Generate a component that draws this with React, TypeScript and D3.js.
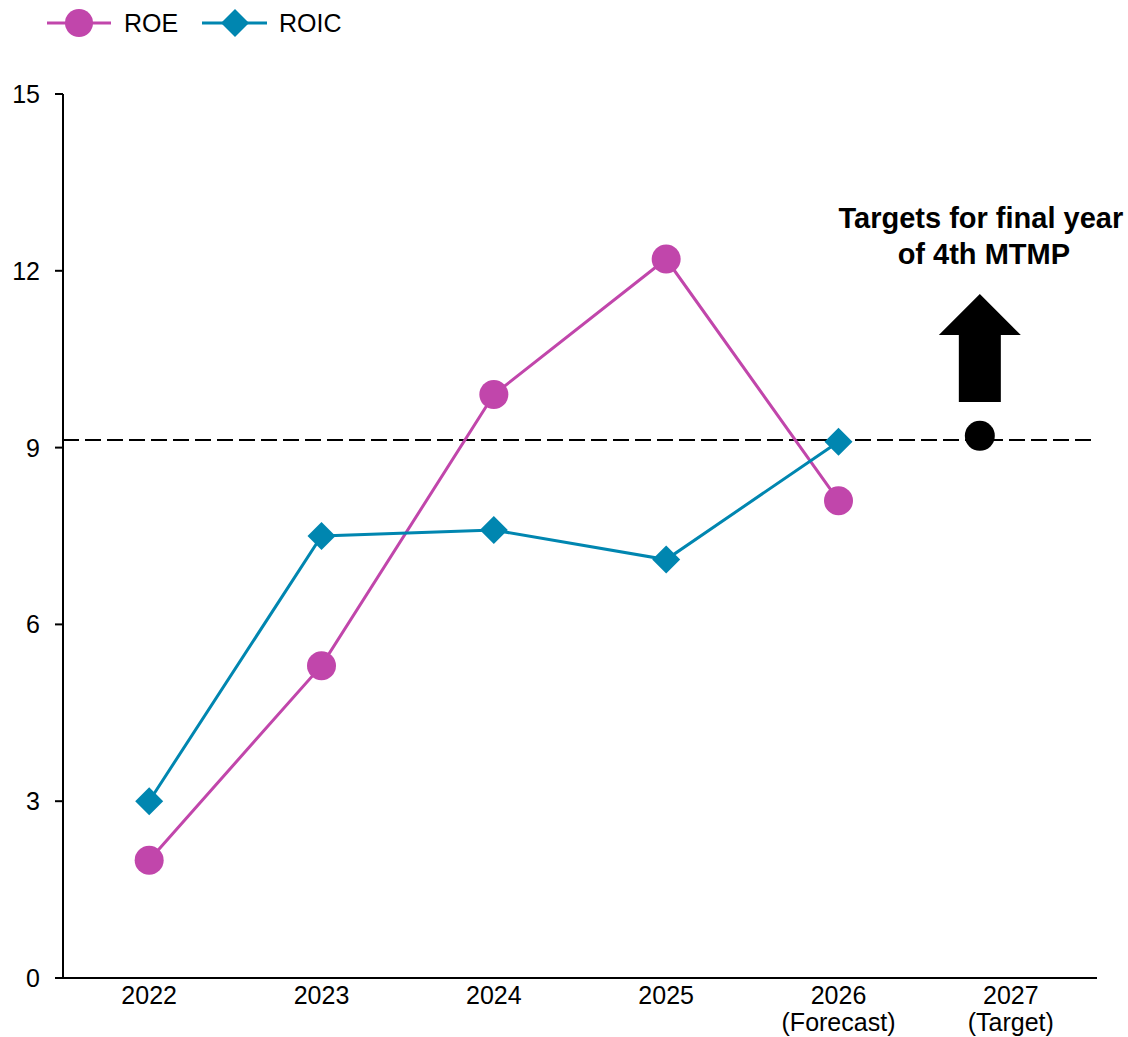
import React from "react";
import * as d3 from "d3";

// Fiscal years on the x axis (second line is an optional note)
const categories = ["2022", "2023", "2024", "2025", "2026", "2027"];
const categoryNotes = ["", "", "", "", "(Forecast)", "(Target)"];

// Return ratios (%) by year
const roeYears = ["2022", "2023", "2024", "2025", "2026"];
const roeValues = [2.0, 5.3, 9.9, 12.2, 8.1];
const roicYears = ["2022", "2023", "2024", "2025", "2026"];
const roicValues = [3.0, 7.5, 7.6, 7.1, 9.1];

// Target level for the final year of the plan
const targetYear = "2027";
const targetValue = 9.2;
const targetLineValue = 9.13;

const yTicks = [0, 3, 6, 9, 12, 15];
const targetTitle = ["Targets for final year", "of 4th MTMP"];

const ROE_COLOR = "#C146AB";
const ROIC_COLOR = "#0086B0";
const FONT = "'Liberation Sans', Arial, Helvetica, sans-serif";

const W = 1128;
const H = 1037;
const left = 63;
const right = 1097;
const top = 94;
const bottom = 978;

export default function App() {
  const x = d3.scaleBand<string>().domain(categories).range([left, right]).padding(0);
  const cx = (c: string) => (x(c) as number) + x.bandwidth() / 2;
  const y = d3.scaleLinear().domain([0, 15]).range([bottom, top]);

  const line = d3
    .line<[string, number]>()
    .x((d) => cx(d[0]))
    .y((d) => y(d[1]));

  const roe: [string, number][] = roeYears.map((c, i) => [c, roeValues[i]]);
  const roic: [string, number][] = roicYears.map((c, i) => [c, roicValues[i]]);

  const diamond = (px: number, py: number, r: number) =>
    `M${px},${py - r}L${px + r},${py}L${px},${py + r}L${px - r},${py}Z`;

  // target marker sits a little left of the 2027 column centre
  const tx = cx(targetYear) - 31;
  const ty = y(targetValue);

  // up arrow above the target marker
  const arrowTip = 294;
  const headBase = 335;
  const shaftBottom = 402;
  const headHalf = 41;
  const shaftHalf = 21;
  const arrowPath = `M${tx},${arrowTip}L${tx + headHalf},${headBase}L${tx + shaftHalf},${headBase}L${tx + shaftHalf},${shaftBottom}L${tx - shaftHalf},${shaftBottom}L${tx - shaftHalf},${headBase}L${tx - headHalf},${headBase}Z`;

  return (
    <svg
      width={W}
      height={H}
      viewBox={`0 0 ${W} ${H}`}
      style={{ position: "absolute", left: 0, top: 0, background: "#fff" }}
      fontFamily={FONT}
    >
      {/* legend */}
      <g>
        <line x1={47} x2={111} y1={23} y2={23} stroke={ROE_COLOR} strokeWidth={3} />
        <circle cx={79} cy={23} r={14} fill={ROE_COLOR} />
        <text x={124} y={32} fontSize={25} fill="#000">ROE</text>
        <line x1={202} x2={267} y1={23} y2={23} stroke={ROIC_COLOR} strokeWidth={3} />
        <path d={diamond(235, 23, 14)} fill={ROIC_COLOR} />
        <text x={279} y={32} fontSize={25} fill="#000">ROIC</text>
      </g>

      {/* y axis */}
      <line x1={left} x2={left} y1={top} y2={bottom} stroke="#000" strokeWidth={2} />
      {yTicks.map((t) => (
        <g key={t}>
          <line x1={55} x2={left} y1={y(t)} y2={y(t)} stroke="#000" strokeWidth={2} />
          <text x={40} y={y(t) + 9} fontSize={25} textAnchor="end" fill="#000">
            {t}
          </text>
        </g>
      ))}

      {/* x axis */}
      <line x1={55} x2={right} y1={bottom} y2={bottom} stroke="#000" strokeWidth={2} />
      {categories.map((c, i) => (
        <text key={c} x={cx(c)} y={1004} fontSize={25} textAnchor="middle" fill="#000">
          <tspan x={cx(c)}>{c}</tspan>
          {categoryNotes[i] && (
            <tspan x={cx(c)} dy={27}>
              {categoryNotes[i]}
            </tspan>
          )}
        </text>
      ))}

      {/* target reference line */}
      <line
        x1={left}
        x2={1092}
        y1={y(targetLineValue)}
        y2={y(targetLineValue)}
        stroke="#000"
        strokeWidth={2}
        strokeDasharray="16,6"
      />

      {/* series lines */}
      <path d={line(roe) || ""} fill="none" stroke={ROE_COLOR} strokeWidth={3} />
      <path d={line(roic) || ""} fill="none" stroke={ROIC_COLOR} strokeWidth={3} />

      {/* series markers */}
      {roic.map((d) => (
        <path key={"roic" + d[0]} d={diamond(cx(d[0]), y(d[1]), 14)} fill={ROIC_COLOR} />
      ))}
      {roe.map((d) => (
        <circle key={"roe" + d[0]} cx={cx(d[0])} cy={y(d[1])} r={14.5} fill={ROE_COLOR} />
      ))}

      {/* target marker, arrow and caption */}
      <circle cx={tx} cy={ty} r={15} fill="#000" />
      <path d={arrowPath} fill="#000" />
      <text fontSize={29} fontWeight="bold" textAnchor="middle" fill="#000">
        <tspan x={tx + 1} y={228}>{targetTitle[0]}</tspan>
        <tspan x={tx + 4} y={264}>{targetTitle[1]}</tspan>
      </text>
    </svg>
  );
}
